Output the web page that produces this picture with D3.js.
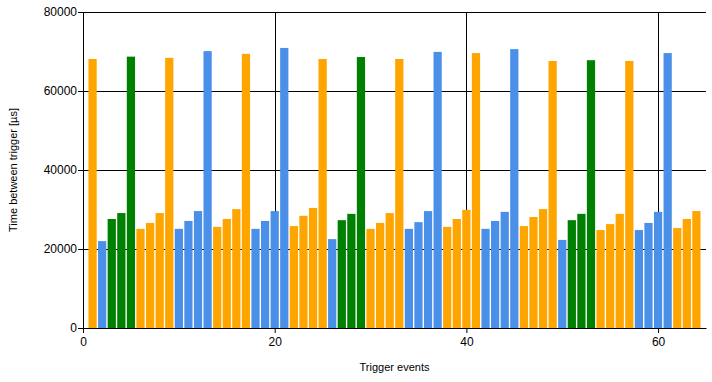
<!DOCTYPE html>
<html>
<head>
<meta charset="utf-8">
<script src="https://cdn.jsdelivr.net/npm/d3@7"></script>
<style>
  body { margin: 0; background: #fff; }
  text { font-family: "Liberation Sans", Arial, sans-serif; }
</style>
</head>
<body>
<script>
// valori (µs), eventi 1..64
var events = d3.range(1, 65);
var times = [68100, 22000, 27600, 29100, 68700, 25100, 26600, 29100, 68400, 25100,
             27100, 29600, 70100, 25600, 27600, 30100, 69400, 25100, 27100, 29600,
             70900, 25800, 28400, 30400, 68100, 22500, 27300, 28900, 68600, 25100,
             26600, 29100, 68100, 25100, 26800, 29600, 69900, 25600, 27600, 29900,
             69600, 25100, 27100, 29400, 70600, 25800, 28100, 30100, 67600, 22300,
             27300, 28900, 67800, 24800, 26300, 28900, 67600, 24800, 26600, 29400,
             69600, 25300, 27600, 29600];
// o = arancio, b = blu, g = verde
var groups = ("o b g g g o o o o b b b b o o o o b b b b o o o o b g g g o o o o b b b b o o o " +
              "o b b b b o o o o b g g g o o o o b b b b o o o").split(" ");
var yTicks = [0, 20000, 40000, 60000, 80000];
var xTicks = [0, 20, 40, 60];

var colors = { o: "#ffa500", b: "#4a90e8", g: "#008000" };

var width = 712, height = 382,
    margin = { top: 12, right: 6, bottom: 54, left: 83 },
    w = width - margin.left - margin.right,
    h = height - margin.top - margin.bottom;

var svg = d3.select("body").append("svg")
    .attr("width", width)
    .attr("height", height);

var g = svg.append("g")
    .attr("transform", "translate(" + margin.left + "," + margin.top + ")");

var x = d3.scaleLinear().domain([0, 65]).range([0, w]);
var y = d3.scaleLinear().domain([0, 80000]).range([h, 0]);

var barW = (x(1) - x(0)) * 0.86;

// griglia orizzontale
g.append("g").selectAll("line")
    .data(yTicks.slice(1))
    .enter().append("line")
    .attr("x1", 0).attr("x2", w)
    .attr("y1", function(d) { return Math.round(y(d)) + 0.5; })
    .attr("y2", function(d) { return Math.round(y(d)) + 0.5; })
    .attr("stroke", "#000");

// griglia verticale
g.append("g").selectAll("line")
    .data(xTicks.slice(1))
    .enter().append("line")
    .attr("y1", 0).attr("y2", h)
    .attr("x1", function(d) { return Math.round(x(d)) + 0.5; })
    .attr("x2", function(d) { return Math.round(x(d)) + 0.5; })
    .attr("stroke", "#000");

// barre
g.append("g").selectAll("rect")
    .data(events)
    .enter().append("rect")
    .attr("x", function(d) { return x(d) - barW / 2; })
    .attr("width", barW)
    .attr("y", function(d, i) { return y(times[i]); })
    .attr("height", function(d, i) { return h - y(times[i]); })
    .attr("fill", function(d, i) { return colors[groups[i]]; });

// assi
var yAxis = g.append("g")
    .call(d3.axisLeft(y).tickValues(yTicks).tickSize(5).tickSizeOuter(0).tickFormat(d3.format("d")));
var xAxis = g.append("g")
    .attr("transform", "translate(0," + h + ")")
    .call(d3.axisBottom(x).tickValues(xTicks).tickSize(5).tickSizeOuter(0).tickFormat(d3.format("d")));

[yAxis, xAxis].forEach(function(a) {
  a.select(".domain").attr("stroke", "#000");
  a.selectAll(".tick line").attr("stroke", "#000");
  a.selectAll("text").attr("font-size", "12px").attr("fill", "#000")
    .attr("font-family", "'Liberation Sans', Arial, sans-serif");
});
yAxis.selectAll("text").attr("x", -6);
xAxis.selectAll("text").attr("y", 9);

// etichette
svg.append("text")
    .attr("x", margin.left + w / 2)
    .attr("y", 371)
    .attr("text-anchor", "middle")
    .attr("font-size", "11px")
    .text("Trigger events");

svg.append("text")
    .attr("transform", "translate(17," + (margin.top + h / 2) + ")rotate(-90)")
    .attr("text-anchor", "middle")
    .attr("font-size", "11px")
    .text("Time between trigger [µs]");
</script>
</body>
</html>
